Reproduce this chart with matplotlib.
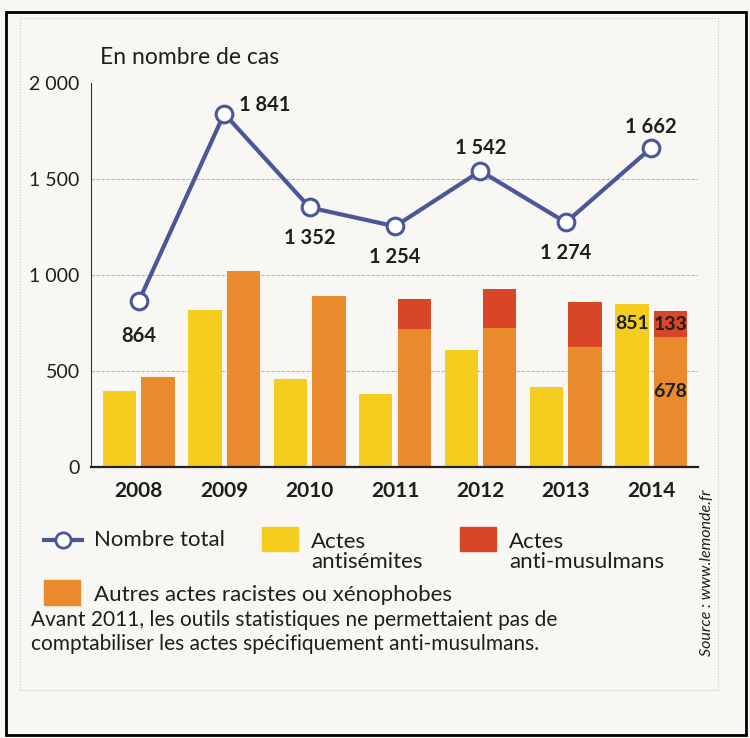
import matplotlib
matplotlib.use("Agg")
import matplotlib.pyplot as plt
from matplotlib.patches import Rectangle
from matplotlib.lines import Line2D
import numpy as np

plt.rcParams['font.family'] = ['Lato', 'DejaVu Sans']

years = ["2008", "2009", "2010", "2011", "2012", "2013", "2014"]
antisemites = [396, 818, 461, 380, 612, 415, 851]
autres = [468, 1023, 891, 717, 727, 627, 678]
anti_musulmans = [0, 0, 0, 157, 203, 232, 133]
total = [864, 1841, 1352, 1254, 1542, 1274, 1662]
total_labels = ["864", "1 841", "1 352", "1 254", "1 542", "1 274", "1 662"]
yticks = [0, 500, 1000, 1500, 2000]
ytick_labels = ["0", "500", "1 000", "1 500", "2 000"]

BG = "#f8f7f3"
YEL = "#f5cd1e"
ORA = "#e98a2c"
RED = "#d84627"
BLUE = "#4b5798"
TXT = "#1e1e1e"

fig = plt.figure(figsize=(7.5, 7.38), dpi=100, facecolor=BG)
ax = fig.add_axes([0.1213, 0.367, 0.8097, 0.5205])
ax.set_facecolor(BG)

x = np.arange(len(years))
w = 0.39
off = 0.225
ax.bar(x - off, antisemites, w, color=YEL, zorder=2)
ax.bar(x + off, autres, w, color=ORA, zorder=2)
ax.bar(x + off, anti_musulmans, w, bottom=autres, color=RED, zorder=2)

ax.plot(x, total, color=BLUE, lw=3, marker="o", ms=12, mfc="white",
        mec=BLUE, mew=2.2, zorder=4)

# point labels: (dx points, dy points, ha, va)
pos = [(0, -18, "center", "top"), (11, 6, "left", "center"),
       (0, -15, "center", "top"), (0, -15, "center", "top"),
       (0, 9, "center", "bottom"), (0, -15, "center", "top"),
       (0, 8, "center", "bottom")]
for i, (dx, dy, ha, va) in enumerate(pos):
    ax.annotate(total_labels[i], (x[i], total[i]), xytext=(dx, dy),
                textcoords="offset points", ha=ha, va=va, fontsize=14.5,
                fontweight="bold", color=TXT, zorder=5)

# 2014 inside labels
i = 6
ax.text(x[i] - off, antisemites[i] - 105, str(antisemites[i]), ha="center",
        va="center", fontsize=14, fontweight="bold", color=TXT, zorder=5)
ax.text(x[i] + off, autres[i] + anti_musulmans[i] / 2, str(anti_musulmans[i]),
        ha="center", va="center", fontsize=14, fontweight="bold", color=TXT, zorder=5)
ax.text(x[i] + off, autres[i] - 285, str(autres[i]), ha="center",
        va="center", fontsize=14, fontweight="bold", color=TXT, zorder=5)

ax.set_xlim(-0.56, 6.55)
ax.set_ylim(0, 2000)
ax.set_yticks(yticks)
ax.set_yticklabels(ytick_labels)
ax.set_xticks(x)
ax.set_xticklabels(years, fontweight="bold")
ax.tick_params(axis="x", length=0, pad=10, labelsize=15, colors=TXT)
ax.tick_params(axis="y", length=0, pad=8, labelsize=14, colors=TXT)
for v in [500, 1000, 1500]:
    ax.axhline(v, color="#b5b5b5", lw=0.8, ls=(0, (3, 1.5)), zorder=1)
for s in ["top", "right"]:
    ax.spines[s].set_visible(False)
ax.spines["left"].set_color("#333333")
ax.spines["bottom"].set_color("#222222")
ax.spines["bottom"].set_linewidth(1.6)

def fx(px):
    return px / 750
def fy(py):
    return 1 - py / 738

fig.text(fx(100), fy(57), "En nombre de cas", fontsize=16.5, color=TXT,
         va="center", ha="left")

# legend
fig.add_artist(Line2D([fx(44), fx(82)], [fy(540), fy(540)], color=BLUE, lw=3,
                      transform=fig.transFigure))
fig.add_artist(Line2D([fx(63)], [fy(540)], color=BLUE, marker="o", ms=11,
                      mfc="white", mew=2, transform=fig.transFigure))
fig.text(fx(94), fy(540), "Nombre total", fontsize=16, color=TXT, va="center")
fig.add_artist(Rectangle((fx(262), fy(551)), fx(36), 24 / 738, color=YEL,
                         transform=fig.transFigure))
fig.text(fx(311), fy(552), "Actes\nantisémites", fontsize=16, color=TXT,
         va="center", linespacing=1.05)
fig.add_artist(Rectangle((fx(460), fy(551)), fx(36), 24 / 738, color=RED,
                         transform=fig.transFigure))
fig.text(fx(509), fy(552), "Actes\nanti-musulmans", fontsize=16, color=TXT,
         va="center", linespacing=1.05)
fig.add_artist(Rectangle((fx(44), fy(605)), fx(36), 25 / 738, color=ORA,
                         transform=fig.transFigure))
fig.text(fx(94), fy(595), "Autres actes racistes ou xénophobes", fontsize=16,
         color=TXT, va="center")

fig.text(fx(31), fy(632), "Avant 2011, les outils statistiques ne permettaient pas de\n"
         "comptabiliser les actes spécifiquement anti-musulmans.", fontsize=15,
         color=TXT, va="center", linespacing=1.2)
fig.text(fx(707), fy(573), "Source : www.lemonde.fr", fontsize=11.5, color=TXT,
         rotation=90, style="italic", va="center", ha="center")

# frames
fig.add_artist(Rectangle((fx(20), fy(690)), fx(698), 672 / 738, fill=False,
                         ec="#c8c8c8", lw=0.8, ls=(0, (1, 1.5)),
                         transform=fig.transFigure))
fig.add_artist(Rectangle((fx(6), fy(735)), fx(740), 723 / 738, fill=False,
                         ec="black", lw=2, transform=fig.transFigure))

fig.savefig("out.png", dpi=100, facecolor=BG)
